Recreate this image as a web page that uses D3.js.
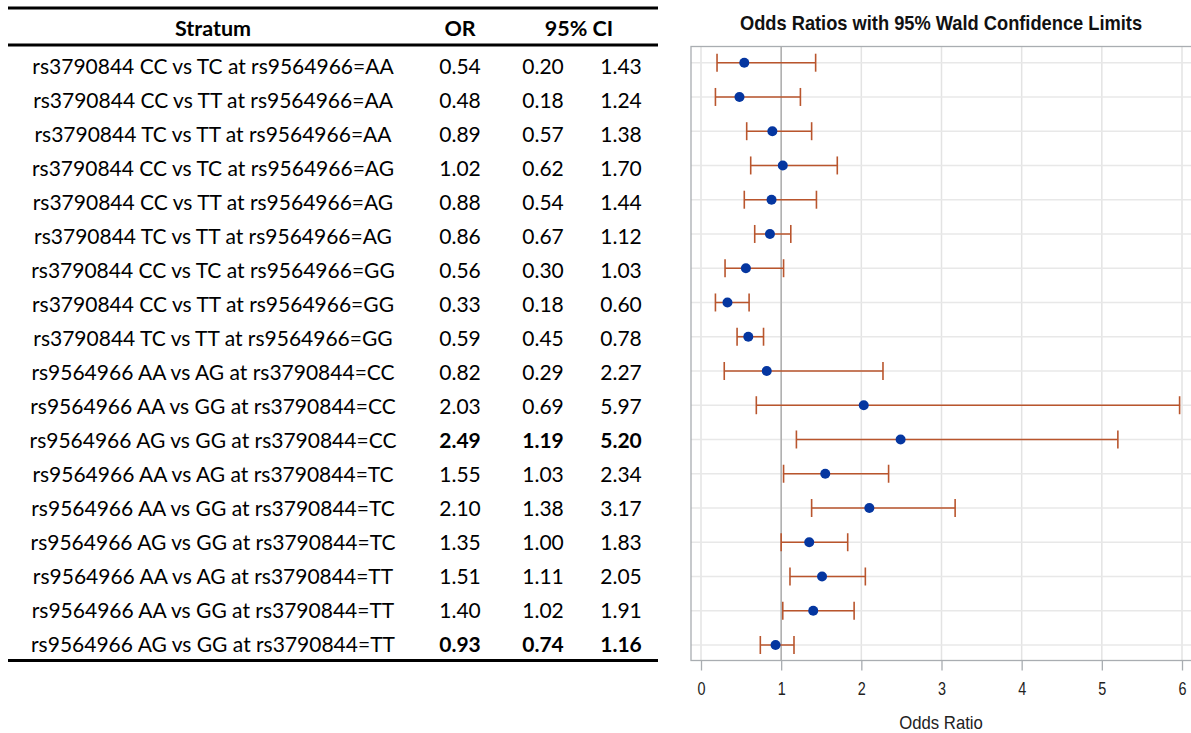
<!DOCTYPE html>
<html><head><meta charset="utf-8">
<script src="https://cdn.jsdelivr.net/npm/d3@7"></script>
<style>body{margin:0;background:#fff}svg{display:block}</style>
</head><body>
<svg id="c" width="1191" height="733"></svg>
<script>
const strata = [
 "rs3790844 CC vs TC at rs9564966=AA",
 "rs3790844 CC vs TT at rs9564966=AA",
 "rs3790844 TC vs TT at rs9564966=AA",
 "rs3790844 CC vs TC at rs9564966=AG",
 "rs3790844 CC vs TT at rs9564966=AG",
 "rs3790844 TC vs TT at rs9564966=AG",
 "rs3790844 CC vs TC at rs9564966=GG",
 "rs3790844 CC vs TT at rs9564966=GG",
 "rs3790844 TC vs TT at rs9564966=GG",
 "rs9564966 AA vs AG at rs3790844=CC",
 "rs9564966 AA vs GG at rs3790844=CC",
 "rs9564966 AG vs GG at rs3790844=CC",
 "rs9564966 AA vs AG at rs3790844=TC",
 "rs9564966 AA vs GG at rs3790844=TC",
 "rs9564966 AG vs GG at rs3790844=TC",
 "rs9564966 AA vs AG at rs3790844=TT",
 "rs9564966 AA vs GG at rs3790844=TT",
 "rs9564966 AG vs GG at rs3790844=TT"
];
const oddsRatio = [0.54,0.48,0.89,1.02,0.88,0.86,0.56,0.33,0.59,0.82,2.03,2.49,1.55,2.10,1.35,1.51,1.40,0.93];
const ciLower  = [0.20,0.18,0.57,0.62,0.54,0.67,0.30,0.18,0.45,0.29,0.69,1.19,1.03,1.38,1.00,1.11,1.02,0.74];
const ciUpper  = [1.43,1.24,1.38,1.70,1.44,1.12,1.03,0.60,0.78,2.27,5.97,5.20,2.34,3.17,1.83,2.05,1.91,1.16];
const boldRows = [11,17];
const xTicks = [0,1,2,3,4,5,6];
const tableHeaders = ["Stratum","OR","95% CI"];
const chartTitle = "Odds Ratios with 95% Wald Confidence Limits";
const xAxisTitle = "Odds Ratio";

const svg = d3.select("#c");
const fmt = d3.format(".2f");
const idx = d3.range(strata.length);

// ---------- table ----------
const tFont = "Lato, 'Open Sans', sans-serif";
const tY = d3.scalePoint().domain(idx).range([67, 645]);
const g = svg.append("g");
g.append("rect").attr("x",8).attr("y",6.5).attr("width",650).attr("height",3).attr("fill","#000");
g.append("rect").attr("x",8).attr("y",43.5).attr("width",650).attr("height",3).attr("fill","#000");
g.append("rect").attr("x",8).attr("y",659).attr("width",650).attr("height",3).attr("fill","#000");
const hx = [213, 460, 579];
g.selectAll("text.h").data(tableHeaders).join("text").attr("class","h")
  .attr("x",(d,i)=>hx[i]).attr("y",28).attr("dy","0.35em").attr("text-anchor","middle")
  .attr("font-family",tFont).attr("font-weight","bold").attr("font-size",21.5).text(d=>d);
const rows = g.selectAll("g.r").data(idx).join("g").attr("class","r")
  .attr("transform",d=>`translate(0,${tY(d)})`);
rows.append("text").attr("x",213).attr("dy","0.35em").attr("text-anchor","middle")
  .attr("font-family",tFont).attr("font-size",21).text(d=>strata[d]);
const cols = [[460,oddsRatio],[543,ciLower],[621,ciUpper]];
cols.forEach(([cx,arr])=>{
  rows.append("text").attr("x",cx).attr("dy","0.35em").attr("text-anchor","middle")
    .attr("font-family",tFont).attr("font-size",21)
    .attr("font-weight",d=>boldRows.includes(d)?"bold":"normal")
    .text(d=>fmt(arr[d]));
});

// ---------- chart ----------
const cFont = "'Liberation Sans', Arial, sans-serif";
const x = d3.scaleLinear().domain([0,6]).range([701,1182]);
const y = d3.scalePoint().domain(idx).range([62.7,645]);
const frame = {l:691, t:46.5, r:1195, b:660.5};

svg.append("text").attr("transform","translate(941,23) scale(0.87,1)").attr("dy","0.35em").attr("text-anchor","middle")
  .attr("font-family",cFont).attr("font-weight","bold").attr("font-size",21).attr("fill","#111")
  .text(chartTitle);

const cg = svg.append("g");
cg.selectAll("line.vg").data(xTicks).join("line").attr("class","vg")
  .attr("x1",d=>x(d)).attr("x2",d=>x(d)).attr("y1",frame.t).attr("y2",frame.b)
  .attr("stroke","#e3e3e3").attr("stroke-width",1.5);
cg.selectAll("line.hg").data(idx).join("line").attr("class","hg")
  .attr("x1",frame.l).attr("x2",frame.r).attr("y1",d=>y(d)).attr("y2",d=>y(d))
  .attr("stroke","#e8e8e8").attr("stroke-width",1.5);
// reference line at 1
cg.append("line").attr("x1",x(1)).attr("x2",x(1)).attr("y1",frame.t).attr("y2",frame.b)
  .attr("stroke","#a6a6a6").attr("stroke-width",1.3);
cg.append("rect").attr("x",frame.l).attr("y",frame.t).attr("width",frame.r-frame.l).attr("height",frame.b-frame.t)
  .attr("fill","none").attr("stroke","#a9adb1").attr("stroke-width",1.3);

const axis = d3.axisBottom(x).tickValues(xTicks).tickSize(10).tickPadding(12).tickFormat(d3.format("d"));
const ag = cg.append("g").attr("transform",`translate(0,${frame.b})`).call(axis);
ag.select(".domain").remove();
ag.selectAll(".tick line").attr("stroke","#a9adb1").attr("stroke-width",1.3);
ag.selectAll(".tick text").attr("font-family",cFont).attr("font-size",18).attr("fill","#222")
  .attr("transform","scale(0.8,1)");
svg.append("text").attr("transform","translate(941,723) scale(0.93,1)").attr("dy","0.35em").attr("text-anchor","middle")
  .attr("font-family",cFont).attr("font-size",18).attr("fill","#222").text(xAxisTitle);

const barC = "#b9552d";
const eb = cg.selectAll("g.eb").data(idx).join("g").attr("class","eb");
eb.append("line").attr("x1",d=>x(ciLower[d])).attr("x2",d=>x(ciUpper[d]))
  .attr("y1",d=>y(d)).attr("y2",d=>y(d)).attr("stroke",barC).attr("stroke-width",1.6);
eb.append("line").attr("x1",d=>x(ciLower[d])).attr("x2",d=>x(ciLower[d]))
  .attr("y1",d=>y(d)-9).attr("y2",d=>y(d)+9).attr("stroke",barC).attr("stroke-width",1.6);
eb.append("line").attr("x1",d=>x(ciUpper[d])).attr("x2",d=>x(ciUpper[d]))
  .attr("y1",d=>y(d)-9).attr("y2",d=>y(d)+9).attr("stroke",barC).attr("stroke-width",1.6);
eb.append("circle").attr("cx",d=>x(oddsRatio[d])).attr("cy",d=>y(d)).attr("r",5)
  .attr("fill","#0536a0");
</script>
</body></html>
